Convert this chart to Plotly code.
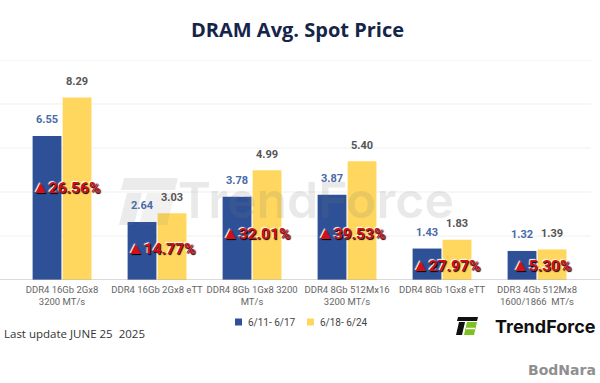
import plotly.graph_objects as go

# ---- data ----
categories = [
    "DDR4 16Gb 2Gx8<br>3200 MT/s",
    "DDR4 16Gb 2Gx8 eTT",
    "DDR4 8Gb 1Gx8 3200<br>MT/s",
    "DDR4 8Gb 512Mx16<br>3200 MT/s",
    "DDR4 8Gb 1Gx8 eTT",
    "DDR3 4Gb 512Mx8<br>1600/1866  MT/s",
]
week1_name = "6/11- 6/17"
week2_name = "6/18- 6/24"
week1 = [6.55, 2.64, 3.78, 3.87, 1.43, 1.32]
week2 = [8.29, 3.03, 4.99, 5.40, 1.83, 1.39]
pct_labels = ["▲26.56%", "▲14.77%", "▲32.01%", "▲39.53%", "▲27.97%", "▲5.30%"]

# ---- layout helpers (positions, not data) ----
pct_label_y = [4.23, 1.45, 2.14, 2.14, 0.68, 0.68]
W, H = 600, 383
TOP, BASE = 60, 280


def pxx(x):
    return x / W


def pxy(y):
    return (BASE - y) / (BASE - TOP)


BLUE = "#2d5097"
YELLOW = "#ffd75e"

fig = go.Figure()
fig.add_trace(go.Bar(x=categories, y=week1, name=week1_name, marker_color=BLUE,
                     marker_line_width=0, hoverinfo="skip"))
fig.add_trace(go.Bar(x=categories, y=week2, name=week2_name, marker_color=YELLOW,
                     marker_line_width=0, hoverinfo="skip"))

annotations = []
for i, c in enumerate(categories):
    annotations.append(dict(x=c, y=week1[i], xref="x", yref="y", text=f"{week1[i]:.2f}",
                            showarrow=False, xshift=-15, yshift=16, yanchor="middle",
                            font=dict(family="Roboto", size=11, color="#4a6aa8", weight="bold")))
    annotations.append(dict(x=c, y=week2[i], xref="x", yref="y", text=f"{week2[i]:.2f}",
                            showarrow=False, xshift=15, yshift=16, yanchor="middle",
                            font=dict(family="Roboto", size=11, color="#555555", weight="bold")))
    lbl = pct_labels[i].replace("▲", "<span style='font-size:17px'>▲</span>")
    annotations.append(dict(x=c, y=pct_label_y[i], xref="x", yref="y", text=lbl,
                            showarrow=False, xshift=4, yanchor="middle",
                            font=dict(family="Roboto", size=15.5, color="#d0101b",
                                      weight="bold",
                                      shadow="1px 1px 1px #000000, -1px -1px 1px #ffffff")))


def note(x, y, text, font, xanchor="center"):
    annotations.append(dict(x=pxx(x), y=pxy(y), xref="paper", yref="paper", text=text,
                            showarrow=False, xanchor=xanchor, yanchor="middle", font=font))


# watermark
note(316, 200, "TrendForce", dict(family="Inter", size=50, weight=600,
                                  color="rgba(120,120,120,0.16)"))
# title
note(297, 30, "DRAM Avg. Spot Price", dict(family="Open Sans", size=20, weight="bold",
                                           color="#15254a"))
# last update
note(2, 333, "Last update JUNE 25  2025", dict(family="Open Sans", size=11.5, color="#333333"),
     xanchor="left")
# logo text
note(598, 326, "TrendForce", dict(family="Inter", size=18, weight="bold", color="#111111"),
     xanchor="right")
note(598, 370, "BodNara", dict(family="DejaVu Sans", size=14, weight="bold", color="#8f8f8f"),
     xanchor="right")
# legend labels
note(246, 322, week1_name, dict(family="Roboto", size=10, color="#444444"), xanchor="left")
note(318, 322, week2_name, dict(family="Roboto", size=10, color="#444444"), xanchor="left")

shapes = []
# gridlines (full width)
for v in [2, 4, 6, 8, 10]:
    shapes.append(dict(type="line", xref="paper", yref="y", x0=0, x1=0.985, y0=v, y1=v,
                       line=dict(color="#efefef", width=1), layer="below"))
# baseline
shapes.append(dict(type="line", xref="paper", yref="y", x0=0, x1=1, y0=0, y1=0,
                   line=dict(color="#b5b5b5", width=1)))


def path(pts):
    return "M " + " L ".join(f"{pxx(a)},{pxy(b)}" for a, b in pts) + " Z"


# legend swatches
shapes.append(dict(type="rect", xref="paper", yref="paper", x0=pxx(235), x1=pxx(242),
                   y0=pxy(318.5), y1=pxy(325.5), fillcolor=BLUE, line_width=0))
shapes.append(dict(type="rect", xref="paper", yref="paper", x0=pxx(307), x1=pxx(314),
                   y0=pxy(318.5), y1=pxy(325.5), fillcolor=YELLOW, line_width=0))

# logo icon
shapes.append(dict(type="path", xref="paper", yref="paper",
                   path=path([(458, 317), (478, 317), (477, 321), (457, 321)]),
                   fillcolor="#111111", line_width=0))
shapes.append(dict(type="path", xref="paper", yref="paper",
                   path=path([(459, 322), (465, 322), (462, 335), (456, 335)]),
                   fillcolor="#111111", line_width=0))
shapes.append(dict(type="path", xref="paper", yref="paper",
                   path=path([(467, 322), (477, 322), (474, 335), (464, 335)]),
                   fillcolor="#7cc11f", line_width=0))
shapes.append(dict(type="line", xref="paper", yref="paper", x0=pxx(466), x1=pxx(475),
                   y0=pxy(328.5), y1=pxy(328.5), line=dict(color="white", width=1.5)))
# watermark icon
shapes.append(dict(type="path", xref="paper", yref="paper",
                   path=path([(124, 178), (178, 178), (175, 190), (121, 190)]),
                   fillcolor="rgba(120,120,120,0.15)", line_width=0))
shapes.append(dict(type="path", xref="paper", yref="paper",
                   path=path([(127, 193), (142, 193), (134, 225), (119, 225)]),
                   fillcolor="rgba(120,120,120,0.15)", line_width=0))
shapes.append(dict(type="path", xref="paper", yref="paper",
                   path=path([(147, 193), (175, 193), (167, 225), (139, 225)]),
                   fillcolor="rgba(120,120,120,0.10)", line_width=0))

fig.update_layout(
    width=W, height=H,
    margin=dict(l=0, r=0, t=TOP, b=H - BASE, autoexpand=False),
    plot_bgcolor="white", paper_bgcolor="white",
    barmode="group", bargap=0.368, bargroupgap=0.04,
    showlegend=False,
    annotations=annotations,
    shapes=shapes,
)
fig.update_xaxes(range=[-0.653, 5.663], showgrid=False, showline=False, ticks="",
                 tickangle=0, automargin=False, ticklabelstandoff=2,
                 tickfont=dict(family="Roboto", size=9.5, color="#666666"))
fig.update_yaxes(range=[0, 10], showgrid=False, showticklabels=False, zeroline=False,
                 automargin=False)

fig.write_html("out.html", config={"displayModeBar": False},
               post_script="document.body.style.margin='0';document.body.style.overflow='hidden';")
